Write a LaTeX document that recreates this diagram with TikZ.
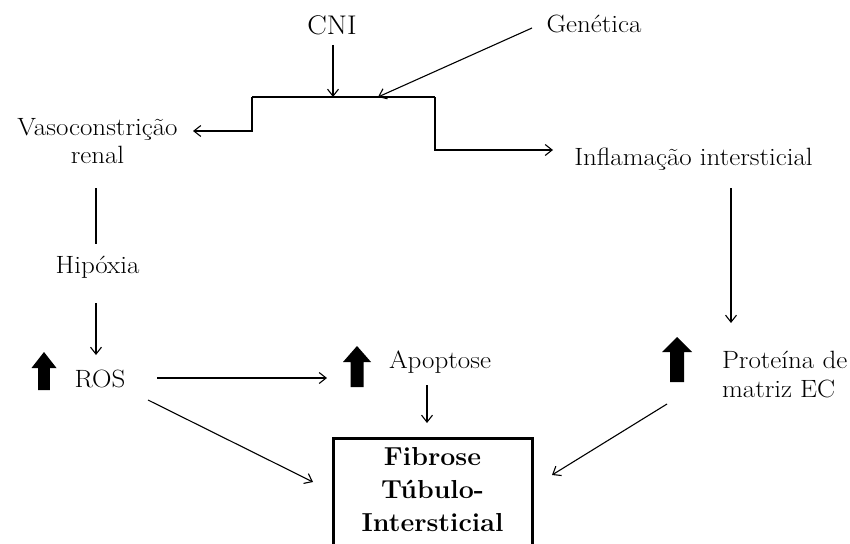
\documentclass[tikz,border=0pt]{standalone}
\usepackage{fontspec}
\setmainfont{Latin Modern Roman}[FakeStretch=1.08]
\newfontfamily\boxfont{Latin Modern Roman}[FakeStretch=1.03]
\usetikzlibrary{arrows.meta,calc}
\newcommand\upblock[6]{\fill (#1-#5,#3) -- (#1+#5,#3) -- (#1+#5,#2+#6) -- (#1+#4,#2+#6) -- (#1,#2) -- (#1-#4,#2+#6) -- (#1-#5,#2+#6) -- cycle;}
\begin{document}
\begin{tikzpicture}[x=1pt,y=-1pt,
  txt/.style={inner sep=0pt, outer sep=0pt, font=\fontsize{25}{28}\selectfont, anchor=base},
  con/.style={line width=1.1pt},
  arr/.style={con, -{Straight Barb[length=7pt,width=11pt]}},
  fibbox/.style={draw, line width=3pt, outer sep=0pt, minimum width=199pt, anchor=north,
    inner xsep=0pt, inner ysep=9pt, align=center, font=\boxfont\bfseries\fontsize{26}{33}\selectfont}]
\useasboundingbox (0,0) rectangle (850,543);
\fill[white] (0,0) rectangle (850,543);
% text nodes
\node[txt, font=\fontsize{27}{30}\selectfont] (cni) at (332,35) {CNI};
\node[txt] (gen) at (594,33) {Genética};
\node[txt] (vaso) at (97.5,135) {Vasoconstrição};
\node[txt] (renal) at (97.5,163) {renal};
\node[txt] (hip) at (97.5,273) {Hipóxia};
\node[txt] (ros) at (100,387) {ROS};
\node[txt] (apo) at (440,368) {Apoptose};
\node[txt] (infl) at (693.5,165) {Inflamação intersticial};
\node[txt, anchor=base west] (prot) at (722,368) {Proteína de};
\node[txt, anchor=base west] (prot2) at (722,397) {matriz EC};
\node[fibbox] (fib) at (432.5,438) {Fibrose\\Túbulo-\\Intersticial\rule[-14pt]{0pt}{0pt}};
% bracket
\coordinate (bl) at (252,97);
\coordinate (br) at (435,97);
\coordinate (cin) at (333,97);
\coordinate (gin) at (378,97);
\draw[con] (bl) -- (br);
\draw[arr] ($(cni.base)+(1,10)$) -- (cin);
\draw[arr] ($(gen.base)+(-62,-5)$) -- (gin);
\draw[arr] (bl) -- ++(0,34) -- ($(vaso.base)+(95.5,-4)$);
\draw[arr] (br) -- ++(0,53) -- ($(infl.base)+(-140.5,-15)$);
% left column
\draw[con] ($(renal.base)+(-1.5,25)$) -- ($(hip.base)+(-1.5,-29)$);
\draw[arr] ($(hip.base)+(-1.5,30)$) -- ($(ros.base)+(-4,-32)$);
\draw[arr] ($(ros.base)+(57,-9)$) -- ($(apo.base)+(-113,10)$);
\draw[arr] ($(ros.base)+(48,13)$) -- ($(fib.north west)+(-20,44)$);
\draw[arr] ($(apo.base)+(-13,17)$) -- ($(fib.north)+(-5.5,-15)$);
% right column
\draw[arr] ($(infl.base)+(37.5,23)$) -- ($(prot.base west)+(9,-45)$);
\draw[arr] ($(prot.base west)+(-55,36)$) -- ($(fib.north east)+(20,37)$);
% big up arrows
\upblock{44}{352}{390}{12.5}{5.8}{16}
\upblock{357}{346}{387}{14}{6.5}{16}
\upblock{677}{337}{382}{15}{7}{15}
\end{tikzpicture}
\end{document}
